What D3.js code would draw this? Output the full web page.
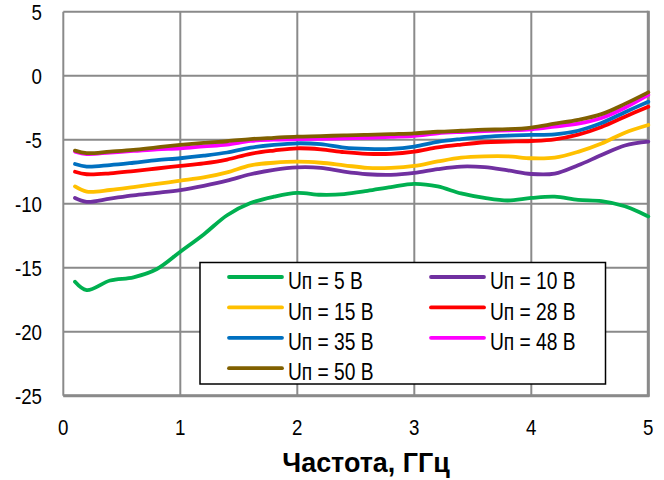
<!DOCTYPE html>
<html><head><meta charset="utf-8">
<script src="https://cdn.jsdelivr.net/npm/d3@7"></script>
<style>
body{margin:0;background:#fff;}
text{font-family:"Liberation Sans",Arial,sans-serif;}
</style></head>
<body><svg id="c" width="664" height="480"></svg>
<script>
const freq = [0.1,0.2,0.4,0.6,0.8,1.0,1.2,1.4,1.6,1.8,2.0,2.2,2.4,2.6,2.8,3.0,3.2,3.4,3.6,3.8,4.0,4.2,4.4,4.6,4.8,5.0];
const u5  = [-16.1,-16.75,-16.0,-15.75,-15.1,-13.75,-12.4,-10.9,-9.95,-9.45,-9.15,-9.3,-9.25,-9.0,-8.7,-8.45,-8.65,-9.2,-9.55,-9.75,-9.55,-9.45,-9.7,-9.8,-10.2,-11.0];
const u10 = [-9.55,-9.85,-9.6,-9.35,-9.15,-8.93,-8.6,-8.2,-7.7,-7.35,-7.16,-7.2,-7.5,-7.7,-7.75,-7.6,-7.3,-7.1,-7.15,-7.4,-7.68,-7.65,-7.0,-6.2,-5.45,-5.15];
const u15 = [-8.65,-9.05,-8.93,-8.7,-8.45,-8.2,-7.95,-7.55,-7.0,-6.8,-6.72,-6.8,-7.0,-7.2,-7.2,-7.05,-6.7,-6.4,-6.3,-6.3,-6.45,-6.4,-5.95,-5.3,-4.45,-3.85];
const u28 = [-7.5,-7.7,-7.63,-7.45,-7.25,-7.05,-6.85,-6.55,-6.1,-5.85,-5.67,-5.75,-5.97,-6.1,-6.1,-5.93,-5.6,-5.38,-5.2,-5.15,-5.1,-4.97,-4.6,-4.0,-3.2,-2.42];
const u35 = [-6.9,-7.1,-6.98,-6.8,-6.6,-6.45,-6.25,-6.0,-5.62,-5.4,-5.28,-5.35,-5.62,-5.72,-5.72,-5.54,-5.17,-4.95,-4.78,-4.68,-4.63,-4.58,-4.3,-3.7,-2.85,-2.03];
const u48 = [-5.93,-6.12,-6.0,-5.88,-5.75,-5.67,-5.52,-5.38,-5.1,-5.0,-4.95,-4.93,-4.9,-4.85,-4.78,-4.7,-4.5,-4.4,-4.33,-4.27,-4.19,-3.98,-3.75,-3.3,-2.5,-1.5];
const u50 = [-5.85,-6.05,-5.93,-5.8,-5.6,-5.41,-5.25,-5.12,-4.95,-4.85,-4.76,-4.72,-4.66,-4.62,-4.56,-4.5,-4.38,-4.3,-4.22,-4.18,-4.05,-3.75,-3.45,-3.0,-2.2,-1.3];
const seriesNames = ["Uп = 5 В","Uп = 10 В","Uп = 15 В","Uп = 28 В","Uп = 35 В","Uп = 48 В","Uп = 50 В"];
const seriesColors = ["#00B050","#7030A0","#FFC000","#FF0000","#0070C0","#FF00FF","#806000"];
const xTicks = [0,1,2,3,4,5];
const yTicks = [5,0,-5,-10,-15,-20,-25];
const xTitle = "Частота, ГГц";

const series = [u5,u10,u15,u28,u35,u48,u50];
const svg = d3.select("#c");
const L=63.3, R=648.3, T=11.7, B=395.7;
const x = d3.scaleLinear().domain([0,5]).range([L,R]);
const y = d3.scaleLinear().domain([-25,5]).range([B,T]);
const grid = "#8a8a8a";

svg.append("g").selectAll("line").data(xTicks).join("line")
  .attr("x1",d=>x(d)).attr("x2",d=>x(d)).attr("y1",T).attr("y2",B)
  .attr("stroke",grid).attr("stroke-width",2);
svg.append("g").selectAll("line").data(yTicks).join("line")
  .attr("x1",L).attr("x2",R).attr("y1",d=>y(d)).attr("y2",d=>y(d))
  .attr("stroke",grid).attr("stroke-width",2);
svg.append("line").attr("x1",R).attr("x2",R).attr("y1",T-1).attr("y2",B+1).attr("stroke",grid).attr("stroke-width",3);
svg.append("line").attr("x1",L).attr("x2",R+1).attr("y1",B).attr("y2",B).attr("stroke",grid).attr("stroke-width",3);

// tick labels (condensed)
const SX = 0.85;
svg.append("g").selectAll("text").data(yTicks).join("text")
  .attr("transform",d=>`translate(42,${y(d)}) scale(${SX},1)`)
  .attr("text-anchor","end").attr("dy","0.36em").attr("font-size",22).text(d=>String(d));
svg.append("g").selectAll("text").data(xTicks).join("text")
  .attr("transform",d=>`translate(${x(d)},435) scale(${SX},1)`)
  .attr("text-anchor","middle").attr("font-size",22).text(d=>String(d));

svg.append("text").attr("transform","translate(366,471.5) scale(0.96,1)").attr("text-anchor","middle")
  .attr("font-size",28).attr("font-weight","bold").text(xTitle);

const line = d3.line().x((d,i)=>x(freq[i])).y(d=>y(d)).curve(d3.curveCatmullRom.alpha(0.5));
svg.append("g").selectAll("path").data(series).join("path")
  .attr("d",d=>line(d)).attr("fill","none")
  .attr("stroke",(d,i)=>seriesColors[i]).attr("stroke-width",3.8)
  .attr("stroke-linejoin","round").attr("stroke-linecap","round");

// legend
const lg = svg.append("g");
lg.append("rect").attr("x",200).attr("y",262.5).attr("width",405.5).attr("height",121.5)
  .attr("fill","#fff").attr("stroke","#000").attr("stroke-width",1.5);
const items = lg.selectAll("g").data(seriesNames).join("g")
  .attr("transform",(d,i)=>`translate(${i%2===0?229:431},${277+Math.floor(i/2)*30.4})`);
items.append("line").attr("x1",0).attr("x2",53).attr("y1",0).attr("y2",0)
  .attr("stroke",(d,i)=>seriesColors[i]).attr("stroke-width",3.8).attr("stroke-linecap","round");
items.append("text").attr("transform","translate(59,12.2) scale(0.8,1)").attr("font-size",24).text(d=>d);
</script></body></html>
